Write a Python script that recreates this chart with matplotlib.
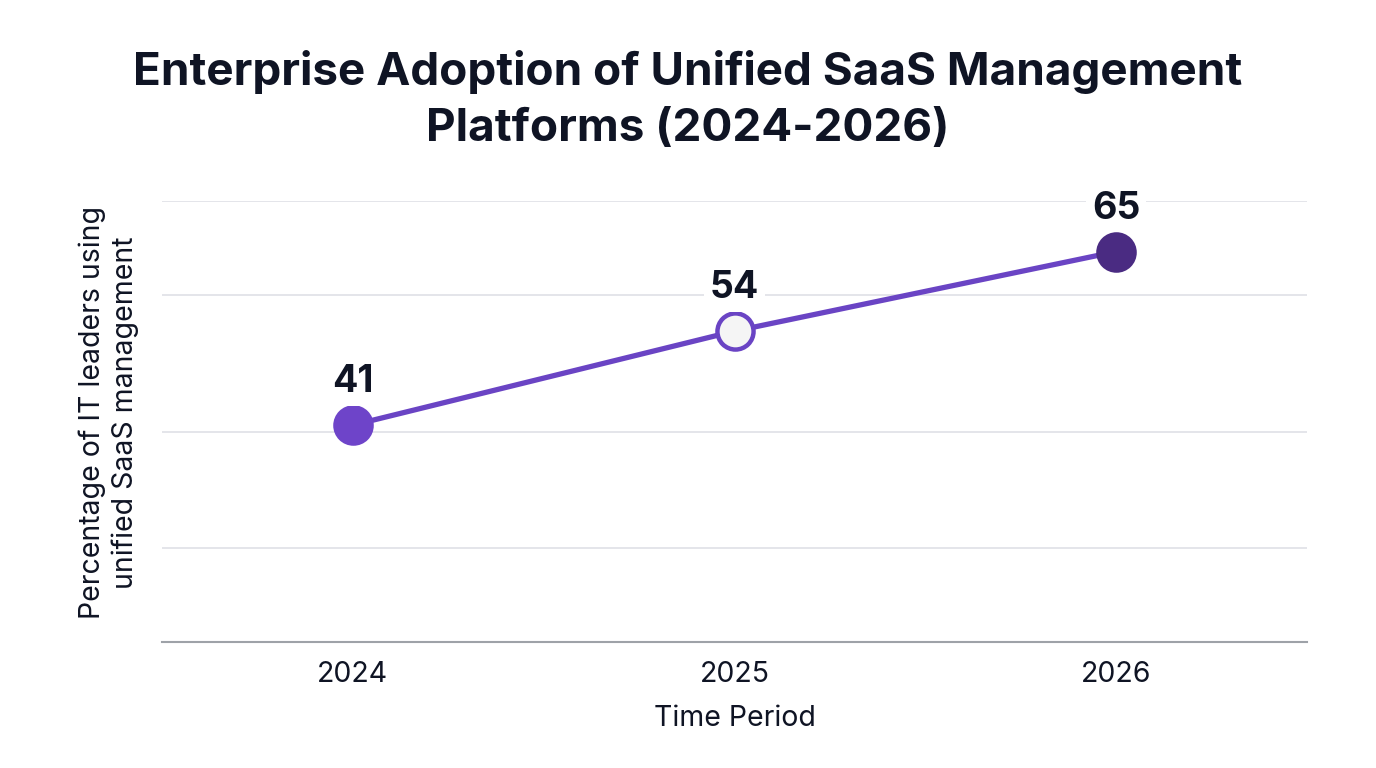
import matplotlib.pyplot as plt

years = ['2024', '2025', '2026']
adoption = [41, 54, 65]
marker_fill = ['#6e44c9', '#f5f5f5', '#4a2b82']
grid_vals = [24, 40, 59, 72]

plt.rcParams['font.family'] = ['Inter', 'DejaVu Sans']
text_color = '#0f1424'
line_color = '#6a44c4'

fig = plt.figure(figsize=(13.76, 7.68), dpi=100)
ax = fig.add_axes([162 / 1376, 1 - 642 / 768, (1307 - 162) / 1376, (642 - 201) / 768])

x = list(range(len(years)))
ax.plot(x, adoption, color=line_color, lw=3.8, zorder=3, solid_capstyle='round')
for i, v in enumerate(adoption):
    ax.plot(i, v, 'o', ms=26, mfc=marker_fill[i],
            mec=line_color if i == 1 else marker_fill[i], mew=3.2, zorder=4)
    ax.annotate(str(v), (i, v), xytext=(0, 31), textcoords='offset points',
                ha='center', va='center', fontsize=27, fontweight='bold',
                color=text_color, zorder=5,
                bbox=dict(boxstyle='square,pad=0.15', fc='white', ec='none'))

ax.set_xlim(-0.5, 2.5)
ax.set_ylim(11, 72)
ax.set_xticks(x)
ax.set_xticklabels(years, fontsize=20.5, color=text_color)
ax.set_yticks(grid_vals)
ax.set_yticklabels([])
ax.tick_params(axis='both', length=0, pad=14)
ax.grid(axis='y', color='#e4e5ea', lw=1.4, zorder=0)
ax.set_axisbelow(True)
for s in ['top', 'right', 'left']:
    ax.spines[s].set_visible(False)
ax.spines['bottom'].set_color('#9ea2a8')
ax.spines['bottom'].set_linewidth(1.5)

ax.set_xlabel('Time Period', fontsize=20.5, color=text_color, labelpad=12)
ax.set_ylabel('Percentage of IT leaders using\nunified SaaS management',
              fontsize=20.5, color=text_color, linespacing=1.25)
ax.yaxis.set_label_coords(-0.02, 0.52)

fig.suptitle('Enterprise Adoption of Unified SaaS Management\nPlatforms (2024-2026)',
             x=0.5, y=0.935, fontsize=33, fontweight='bold', color=text_color,
             linespacing=1.42, va='top')

fig.savefig('out.png', dpi=100, facecolor='white')
